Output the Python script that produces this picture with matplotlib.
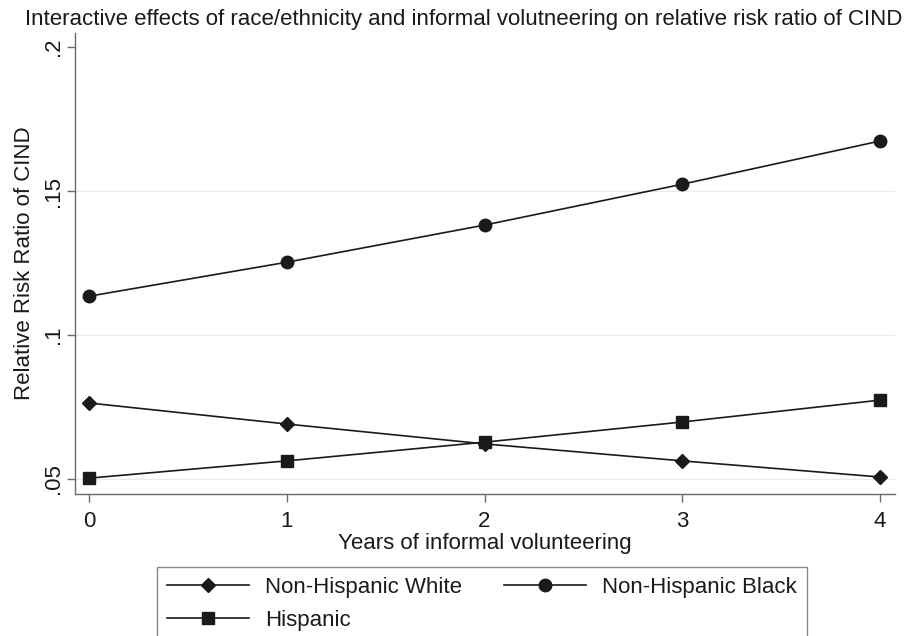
import matplotlib.pyplot as plt
import numpy as np

plt.rcParams['font.family'] = ['Liberation Sans', 'DejaVu Sans']

# ─────────────────────────────────────────────────────────────────────────────
# Data (years of informal volunteering vs RRR of CIND)
years = [0, 1, 2, 3, 4]
nh_white = [0.0764, 0.0691, 0.0622, 0.0563, 0.0507]
nh_black = [0.1135, 0.1253, 0.1382, 0.1524, 0.1674]
hispanic = [0.0503, 0.0563, 0.0628, 0.0698, 0.0774]

y_ticks = [0.05, 0.10, 0.15, 0.20]
y_tick_labels = [".05", ".1", ".15", ".2"]
grid_levels = [0.05, 0.10, 0.15]

ink = "#1a1a1a"
axis_gray = "#6a6a6a"
fs = 16

# ─────────────────────────────────────────────────────────────────────────────
fig = plt.figure(figsize=(9.19, 6.36), dpi=100)
ax = fig.add_axes([0.0816, 0.2233, 0.8923, 0.7247])

for g in grid_levels:
    ax.axhline(g, color="#ebebeb", linewidth=1.0, zorder=0)

line_kw = dict(color=ink, linewidth=1.2, markerfacecolor=ink, markeredgecolor=ink)
l_white, = ax.plot(years, nh_white, marker="D", markersize=7, label="Non-Hispanic White", **line_kw)
l_black, = ax.plot(years, nh_black, marker="o", markersize=9, label="Non-Hispanic Black", **line_kw)
l_hisp, = ax.plot(years, hispanic, marker="s", markersize=8.5, label="Hispanic", **line_kw)

ax.set_xlim(-0.071, 4.076)
ax.set_ylim(0.0448, 0.2049)
ax.set_xticks(years)
ax.set_yticks(y_ticks)
ax.set_yticklabels(y_tick_labels, rotation=90, va="center")

for side in ("top", "right"):
    ax.spines[side].set_visible(False)
for side in ("left", "bottom"):
    ax.spines[side].set_color(axis_gray)
    ax.spines[side].set_linewidth(1.0)

ax.tick_params(axis="both", direction="out", length=6, width=1.0,
               color=axis_gray, labelsize=fs, labelcolor=ink)
ax.tick_params(axis="x", pad=6)
ax.tick_params(axis="y", pad=2)

ax.set_xlabel("Years of informal volunteering", fontsize=fs, color=ink, labelpad=1)
ax.set_ylabel("Relative Risk Ratio of CIND", fontsize=fs, color=ink, labelpad=6)

fig.text(0.505, 0.969,
         "Interactive effects of race/ethnicity and informal volutneering on relative risk ratio of CIND",
         ha="center", va="center", fontsize=fs, color=ink)

# legend: row 1 White / Black, row 2 Hispanic
leg = fig.legend([l_white, l_hisp, l_black],
                 ["Non-Hispanic White", "Hispanic", "Non-Hispanic Black"],
                 ncol=2, loc="upper left", bbox_to_anchor=(157 / 919, 1 - 567 / 636),
                 frameon=True, fancybox=False, fontsize=fs, handlelength=3.7,
                 handletextpad=0.7, columnspacing=1.9, labelspacing=0.55,
                 borderpad=0.45, borderaxespad=0)
leg.get_frame().set_edgecolor(axis_gray)
leg.get_frame().set_linewidth(1.0)
for t in leg.get_texts():
    t.set_color(ink)

plt.savefig("out.png", dpi=100)
